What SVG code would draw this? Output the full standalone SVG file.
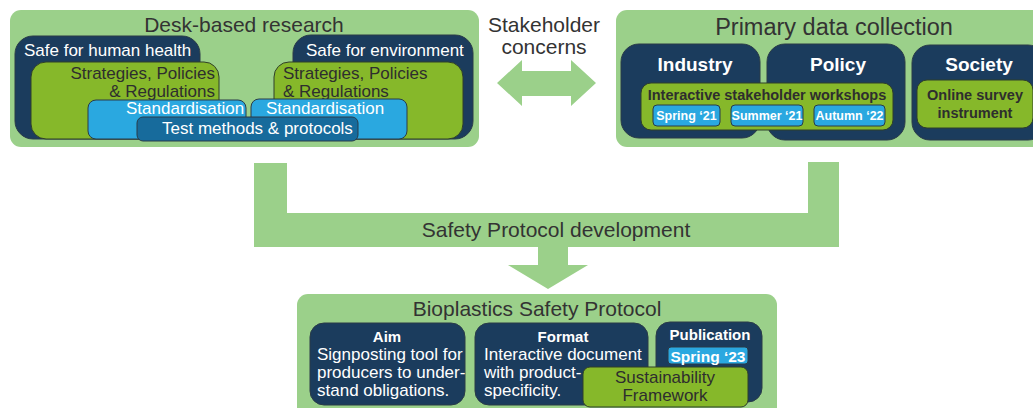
<svg xmlns="http://www.w3.org/2000/svg" width="1033" height="408" viewBox="0 0 1033 408">
<defs>
<style>
text{font-family:"Liberation Sans",Arial,sans-serif}
.panel{fill:#9BD08A}
.navy{fill:#1B3C5D;stroke:#2A3B48;stroke-width:1}
.olive{fill:#86B82A;stroke:#2F3F2A;stroke-width:1}
.sky{fill:#2AA8E0;stroke:#2A3B48;stroke-width:1}
.deep{fill:#176B9C;stroke:#2A3B48;stroke-width:1}
.title{font-size:21px;fill:#333;text-anchor:middle}
.wt{fill:#fff}
.dk{fill:#2E2E2E}
.b{font-weight:bold}
.c{text-anchor:middle}
.e{text-anchor:end}
.flow{fill:#9BD08A}
</style>
</defs>
<rect width="1033" height="408" fill="#fff"/>

<g id="connectors">
<polygon class="flow" points="254,163 287,163 287,213 808,213 808,162 839,162 839,247 568,247 568,265 588,265 548,289 508,265 538,265 538,247 254,247"/>
<polygon class="flow" points="497,83 522,60 522,71 571,71 571,60 596,83 571,106 571,96 522,96 522,106"/>
</g>

<g id="flow-label">
<text x="556" y="237" style="font-size:21px;fill:#333" class="c">Safety Protocol development</text>
</g>

<g id="stakeholder-label">
<text x="544" y="32" style="font-size:21px;fill:#333" class="c">Stakeholder</text>
<text x="544" y="54" style="font-size:21px;fill:#333" class="c">concerns</text>
</g>

<g id="desk-research">
<rect class="panel" x="10" y="10" width="469" height="137" rx="11"/>
<text class="title" x="244" y="32">Desk-based research</text>
<g id="human-health">
<rect class="navy" x="15" y="36" width="185" height="103" rx="18"/>
<text class="wt" x="24" y="56" style="font-size:17px">Safe for human health</text>
</g>
<g id="environment">
<rect class="navy" x="293" y="35" width="180" height="104" rx="18"/>
<text class="wt" x="306" y="56" style="font-size:17px">Safe for environment</text>
</g>
<g id="spr-left">
<rect class="olive" x="31" y="62" width="188" height="77" rx="15"/>
<text class="dk e" x="215" y="79" style="font-size:17px">Strategies, Policies</text>
<text class="dk e" x="215" y="97" style="font-size:17px">&amp; Regulations</text>
</g>
<g id="spr-right">
<rect class="olive" x="274" y="62" width="189" height="77" rx="15"/>
<text class="dk" x="283" y="79" style="font-size:17px">Strategies, Policies</text>
<text class="dk" x="283" y="97" style="font-size:17px">&amp; Regulations</text>
</g>
<g id="std-left">
<rect class="sky" x="88" y="100" width="158" height="39" rx="8"/>
<text class="wt" x="126" y="114" style="font-size:17px">Standardisation</text>
</g>
<g id="std-right">
<rect class="sky" x="251" y="99" width="156" height="40" rx="8"/>
<text class="wt" x="266" y="114" style="font-size:17px">Standardisation</text>
</g>
<g id="test-methods">
<rect class="deep" x="137" y="117" width="221" height="24" rx="6"/>
<text class="wt" x="162" y="134" style="font-size:17px">Test methods &amp; protocols</text>
</g>
</g>

<g id="primary-data">
<rect class="panel" x="616" y="10" width="430" height="137" rx="11"/>
<text class="title" x="834" y="35" style="font-size:23.5px">Primary data collection</text>
<g id="industry">
<rect class="navy" x="621" y="44" width="139" height="94" rx="18"/>
<text class="wt b c" x="695" y="71" style="font-size:19px">Industry</text>
</g>
<g id="policy">
<rect class="navy" x="767" y="44" width="138" height="96" rx="18"/>
<text class="wt b c" x="838" y="71" style="font-size:19px">Policy</text>
</g>
<g id="society">
<rect class="navy" x="912" y="45" width="134" height="95" rx="18"/>
<text class="wt b c" x="979" y="71" style="font-size:19px">Society</text>
</g>
<g id="workshops">
<rect class="olive" x="641" y="83" width="252" height="47" rx="10"/>
<text class="dk b c" x="767" y="100" style="font-size:14.5px">Interactive stakeholder workshops</text>
<rect class="sky" x="653" y="105" width="67" height="21" rx="4"/>
<text class="wt b c" x="686.5" y="120" style="font-size:12.5px">Spring ‘21</text>
<rect class="sky" x="731" y="105" width="72" height="21" rx="4"/>
<text class="wt b c" x="767" y="120" style="font-size:12.5px">Summer ‘21</text>
<rect class="sky" x="814" y="105" width="71" height="21" rx="4"/>
<text class="wt b c" x="849.5" y="120" style="font-size:12.5px">Autumn ‘22</text>
</g>
<g id="online-survey">
<rect class="olive" x="917" y="80" width="116" height="48" rx="10"/>
<text class="dk b c" x="975" y="100" style="font-size:14.5px">Online survey</text>
<text class="dk b c" x="975" y="118" style="font-size:14.5px">instrument</text>
</g>
</g>

<g id="safety-protocol">
<rect class="panel" x="297" y="294" width="480" height="130" rx="11"/>
<text class="title" x="537" y="316">Bioplastics Safety Protocol</text>
<g id="aim">
<rect class="navy" x="310" y="323" width="155" height="82" rx="14"/>
<text class="wt b c" x="387" y="342" style="font-size:15px">Aim</text>
<text class="wt" x="317" y="360" style="font-size:17px">Signposting tool for</text>
<text class="wt" x="317" y="378" style="font-size:17px">producers to under-</text>
<text class="wt" x="317" y="396" style="font-size:17px">stand obligations.</text>
</g>
<g id="format">
<rect class="navy" x="475" y="323" width="173" height="82" rx="14"/>
<text class="wt b c" x="563" y="342" style="font-size:15px">Format</text>
<text class="wt" x="484" y="360" style="font-size:17px">Interactive document</text>
<text class="wt" x="484" y="378" style="font-size:17px">with product-</text>
<text class="wt" x="484" y="396" style="font-size:17px">specificity.</text>
</g>
<g id="publication">
<rect class="navy" x="656" y="322" width="106" height="80" rx="14"/>
<text class="wt b c" x="710" y="340" style="font-size:15px">Publication</text>
<rect class="sky" x="668" y="347" width="80" height="17" rx="3"/>
<text class="wt b c" x="708" y="362" style="font-size:15.5px">Spring ‘23</text>
</g>
<g id="sustainability">
<rect class="olive" x="583" y="367" width="165" height="40" rx="7"/>
<text class="dk c" x="665" y="383" style="font-size:17px">Sustainability</text>
<text class="dk c" x="665" y="401" style="font-size:17px">Framework</text>
</g>
</g>
</svg>
